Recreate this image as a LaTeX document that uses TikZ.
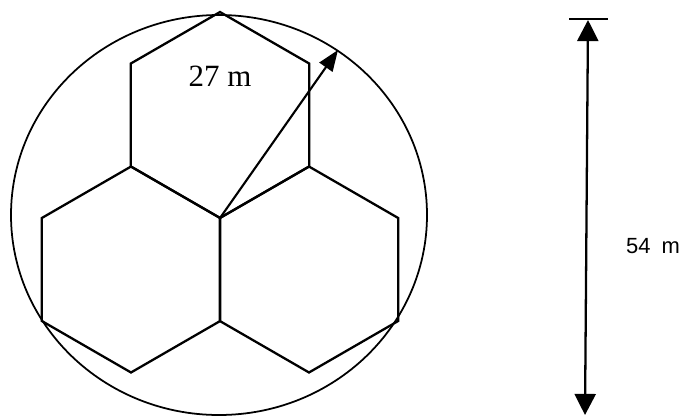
\documentclass[tikz,border=0pt]{standalone}
\usepackage{fontspec}
\setmainfont{Liberation Serif}
\newfontfamily\labelsans{Liberation Sans}
\usetikzlibrary{arrows.meta, shapes.geometric}

\begin{document}
\begin{tikzpicture}[
    x=0.02cm, y=-0.02cm,
    hexcell/.style={regular polygon, regular polygon sides=6, rotate=30, draw, line width=1.3pt, minimum size=4.12cm, inner sep=0pt, outer sep=0pt},
    arrow/.style={-{Triangle[length=12pt, width=9pt]}, line width=1.2pt},
    dimarrow/.style={{Triangle[length=12pt, width=12pt]}-{Triangle[length=12pt, width=12pt]}, line width=1.3pt}
  ]
    \useasboundingbox (0,0) rectangle (685,416);

    % outer circle
    \draw[line width=1pt] (219,215) ellipse [x radius=208, y radius=200];

    % three hexagonal cells
    \node[hexcell] (hextop) at (220,115) {};
    \node[hexcell] (hexleft) at (131,269.5) {};
    \node[hexcell] (hexright) at (309,269.5) {};

    % radius
    \coordinate (hub) at (220,218);
    \coordinate (rim) at (338,50);
    \draw[arrow] (hub) -- (rim);
    \node[font=\fontsize{17.6}{20}\selectfont] (radlabel) at (220,76) {27 m};

    % diameter
    \coordinate (dimtop) at (588,20);
    \coordinate (dimbot) at (585,415);
    \draw[line width=1.3pt] (dimtop) ++(-19,-1) -- ++(39,0);
    \draw[dimarrow] (dimbot) -- (dimtop);
    \node[font=\labelsans\fontsize{12.5}{15}\selectfont] (dimlabel) at (653,246.5) {54\hspace{0.5em}m};
  \end{tikzpicture}
\end{document}
